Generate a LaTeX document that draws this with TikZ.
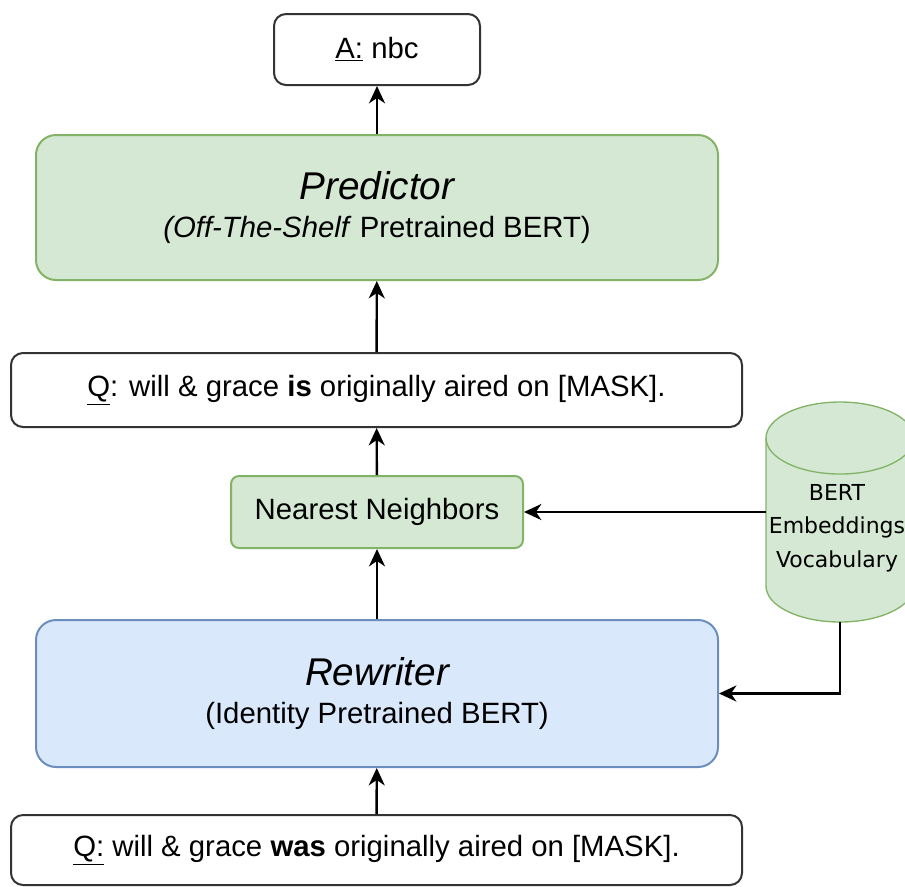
\documentclass[tikz,border=0pt]{standalone}
\usepackage{fontspec}
\setmainfont{Liberation Sans}
\newfontfamily\cylfont{DejaVu Sans}
\usetikzlibrary{arrows.meta}
\definecolor{grnfill}{HTML}{D5E8D4}
\definecolor{grnline}{HTML}{82B366}
\definecolor{blufill}{HTML}{DAE8FC}
\definecolor{bluline}{HTML}{6C8EBF}
\definecolor{boxline}{HTML}{333333}
\begin{document}
\begin{tikzpicture}[x=0.75pt,y=0.75pt,yscale=-1,xscale=1,
  txtbox/.style={draw=boxline,line width=1.5pt,rounded corners=9pt,fill=white,align=center,inner sep=0pt,font=\fontsize{22}{26}\selectfont},
  grnbox/.style={txtbox,draw=grnline,fill=grnfill},
  blubox/.style={txtbox,draw=bluline,fill=blufill,rounded corners=15pt},
  arr/.style={line width=1.8pt,-{Stealth[length=13pt,width=12pt,inset=4pt]}}]
\useasboundingbox (0,0) rectangle (905,886);
% boxes
\node [txtbox,minimum width=154.5pt,minimum height=53.25pt] (ans) at (377,49.5) {\underline{A:} nbc};
\node [grnbox,rounded corners=15pt,minimum width=511.5pt,minimum height=108.75pt] (pred) at (377,207.5) {\raisebox{-4pt}{\fontsize{29}{34}\selectfont\itshape Predictor}\\[6pt]\textit{(Off-The-Shelf} Pretrained BERT)};
\node [txtbox,minimum width=548.25pt,minimum height=55.5pt] (qis) at (376.5,390) {\underline{Q}: will \& grace \textbf{is} originally aired on [MASK].};
\node [grnbox,rounded corners=6pt,minimum width=219pt,minimum height=54pt] (nn) at (377,512) {Nearest Neighbors};
\node [blubox,minimum width=511.5pt,minimum height=110.25pt] (rew) at (377,693.5) {\raisebox{-4pt}{\fontsize{29}{34}\selectfont\itshape Rewriter}\\[6pt](Identity Pretrained BERT)};
\node [txtbox,minimum width=548.25pt,minimum height=52.5pt] (qwas) at (376.5,850) {\underline{Q:} will \& grace \textbf{was} originally aired on [MASK].};
% vocabulary store
\node [inner sep=0pt,minimum width=111pt,minimum height=165pt] (cyl) at (840,512) {};
\draw [draw=grnline,fill=grnfill,line width=1pt] (766,438) -- (766,586) arc[start angle=180,end angle=0,x radius=74,y radius=36] -- (914,438) arc[start angle=0,end angle=-180,x radius=74,y radius=36] -- cycle;
\draw [draw=grnline,line width=1pt] (766,438) arc[start angle=180,end angle=0,x radius=74,y radius=36];
\node [align=center,font=\cylfont\fontsize{16.5}{25}\selectfont] (vocab) at (837,528) {BERT\\Embeddings\\Vocabulary};
% connectors
\draw [arr] (qwas) -- (rew);
\draw [arr] (rew) -- (nn);
\draw [arr] (nn) -- (qis);
\draw [arr] (qis) -- (pred);
\draw [arr] (pred) -- (ans);
\draw [arr] (cyl.west) -- (nn.east);
\draw [arr] (cyl.south) |- (rew.east);
\end{tikzpicture}
\end{document}
